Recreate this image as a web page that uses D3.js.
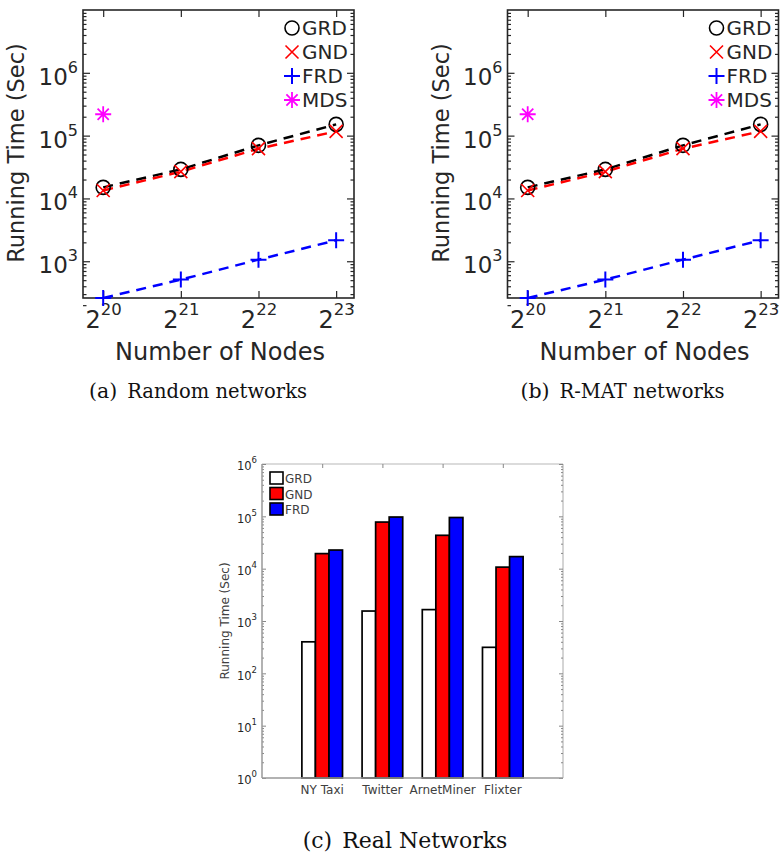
<!DOCTYPE html>
<html>
<head>
  <meta charset="utf-8">
  <title>Running time</title>
  <style>
    body { margin: 0; background: white; }
    svg  { display: block; }
    .ax text   { font-family: "DejaVu Sans", sans-serif; fill: #262626; }
    .cap       { font-family: "DejaVu Serif", serif; fill: #111; }
  </style>
</head>
<body>
<script src="https://d3js.org/d3.v7.min.js"></script>
<script>

// node counts, as powers of two
var nodeExp = [20, 21, 22, 23];

// (a) Random networks
var randGRD = [15000, 29000, 70000, 151000];
var randGND = [13400, 26700, 62000, 117000];
var randFRD = [260, 510, 1060, 2160];
var randMDS = [219000];          // only measured at 2^20

// (b) R-MAT networks
var rmatGRD = [15000, 29000, 70000, 151000];
var rmatGND = [13400, 26700, 62000, 117000];
var rmatFRD = [260, 510, 1060, 2160];
var rmatMDS = [219000];

// (c) Real networks
var realNets = ['NY Taxi', 'Twitter', 'ArnetMiner', 'Flixter'];
var realGRD  = [400, 1550, 1650, 314];
var realGND  = [19400, 77700, 43400, 10700];
var realFRD  = [22700, 97000, 95000, 17000];

var lineTicks = [1e3, 1e4, 1e5, 1e6];
var barTicks  = [1e0, 1e1, 1e2, 1e3, 1e4, 1e5, 1e6];

var svg = d3.select('body').append('svg')
  .attr('width', 780).attr('height', 858);

function minorTicks(lo, hi) {
  var out = [];
  for (var e = lo; e < hi; e++)
    for (var m = 2; m < 10; m++) out.push(m * Math.pow(10, e));
  return out;
}

// put "base^exp" into an axis label
function supLabel(sel, base, expFn, supSize, dy) {
  sel.each(function(d) {
    var t = d3.select(this).text('');
    t.append('tspan').text(base);
    t.append('tspan').attr('dy', dy).attr('font-size', supSize).text(expFn(d));
  });
}

function linePanel(ox, grd, gnd, frd, mds, caption) {
  var w = 271, h = 288, top = 10;
  var g = svg.append('g').attr('transform', 'translate(' + ox + ',' + top + ')');
  var x = d3.scaleLog().base(2).domain([Math.pow(2, 19.74), Math.pow(2, 23.23)]).range([0, w]);
  var y = d3.scaleLog().domain([260, 1e7]).range([h, 0]);
  var col = '#262626';

  // ticks, inward, on all four sides
  var yMajL = d3.axisLeft(y).tickValues(lineTicks).tickSize(-7).tickPadding(5).tickFormat(function(){return '';});
  var yMinL = d3.axisLeft(y).tickValues(minorTicks(2, 7)).tickSize(-3.5).tickFormat('');
  var yMajR = d3.axisRight(y).tickValues(lineTicks).tickSize(-7).tickFormat('');
  var yMinR = d3.axisRight(y).tickValues(minorTicks(2, 7)).tickSize(-3.5).tickFormat('');
  var xs = nodeExp.map(function(e){ return Math.pow(2, e); });
  var xB = d3.axisBottom(x).tickValues(xs).tickSize(-7).tickPadding(10).tickFormat(function(){return '';});
  var xT = d3.axisTop(x).tickValues(xs).tickSize(-7).tickFormat('');

  [[yMinL, 0, 0], [yMajL, 0, 0], [yMinR, w, 0], [yMajR, w, 0], [xB, 0, h], [xT, 0, 0]].forEach(function(a) {
    var ag = g.append('g').attr('class', 'ax')
      .attr('transform', 'translate(' + a[1] + ',' + a[2] + ')').call(a[0]);
    ag.select('.domain').remove();
    ag.selectAll('line').attr('stroke', col).attr('stroke-width', 1.2);
    if (a[0] === yMajL) {
      ag.selectAll('text').attr('font-size', 23).attr('dy', '0.5em')
        .call(supLabel, '10', function(d){ return Math.round(Math.log10(d)); }, 16, '-0.75em');
    }
    if (a[0] === xB) {
      ag.selectAll('text').attr('font-size', 24).attr('dy', '0.85em')
        .call(supLabel, '2', function(d){ return Math.round(Math.log2(d)); }, 16.5, '-0.8em');
    }
  });

  g.append('rect').attr('width', w).attr('height', h)
    .attr('fill', 'none').attr('stroke', col).attr('stroke-width', 1.6);

  var line = d3.line()
    .x(function(d, i){ return x(Math.pow(2, nodeExp[i])); })
    .y(function(d){ return y(d); });

  var series = [
    {v: grd, c: 'black',   m: 'o'},
    {v: gnd, c: '#ff0000', m: 'x'},
    {v: frd, c: '#0000ff', m: '+'}
  ];
  var plot = g.append('g');
  series.forEach(function(s) {
    plot.append('path').datum(s.v).attr('d', line)
      .attr('fill', 'none').attr('stroke', s.c).attr('stroke-width', 2.5)
      .attr('stroke-dasharray', '10,7');
  });
  series.forEach(function(s) {
    s.v.forEach(function(v, i) {
      marker(plot, s.m, s.c, x(Math.pow(2, nodeExp[i])), y(v));
    });
  });
  mds.forEach(function(v, i) {
    marker(plot, '*', '#ff00ff', x(Math.pow(2, nodeExp[i])), y(v));
  });

  // legend
  var leg = [['o', 'black', 'GRD'], ['x', '#ff0000', 'GND'], ['+', '#0000ff', 'FRD'], ['*', '#ff00ff', 'MDS']];
  leg.forEach(function(l, i) {
    var ly = 18 + i * 24;
    marker(g, l[0], l[1], 209, ly);
    g.append('text').attr('class', 'ax').attr('x', 219).attr('y', ly + 7)
      .attr('font-family', '"DejaVu Sans", sans-serif').attr('font-size', 20)
      .attr('fill', '#262626').text(l[2]);
  });

  // axis titles
  g.append('text').attr('transform', 'translate(' + (-59) + ',' + (h / 2 - 1) + ') rotate(-90)')
    .attr('text-anchor', 'middle').attr('font-family', '"DejaVu Sans", sans-serif')
    .attr('font-size', 22.5).attr('fill', '#262626').text('Running Time (Sec)');
  g.append('text').attr('x', 137).attr('y', 350)
    .attr('text-anchor', 'middle').attr('font-family', '"DejaVu Sans", sans-serif')
    .attr('font-size', 24).attr('fill', '#262626').text('Number of Nodes');

  var c = g.append('text').attr('class', 'cap').attr('x', 115).attr('y', 388)
    .attr('text-anchor', 'middle').attr('font-size', 20.5);
  c.append('tspan').text(caption[0]);
  c.append('tspan').attr('dx', 10).attr('font-size', 19.5).text(caption[1]);
}

function marker(p, m, c, cx, cy) {
  if (m === 'o') {
    p.append('circle').attr('cx', cx).attr('cy', cy).attr('r', 7)
      .attr('fill', 'none').attr('stroke', c).attr('stroke-width', 1.6);
  } else if (m === 'x') {
    var s = 6.5;
    p.append('path').attr('d', 'M' + (cx - s) + ',' + (cy - s) + 'L' + (cx + s) + ',' + (cy + s) +
      'M' + (cx - s) + ',' + (cy + s) + 'L' + (cx + s) + ',' + (cy - s))
      .attr('stroke', c).attr('stroke-width', 1.6);
  } else if (m === '+') {
    var r = 8;
    p.append('path').attr('d', 'M' + (cx - r) + ',' + cy + 'H' + (cx + r) + 'M' + cx + ',' + (cy - r) + 'V' + (cy + r))
      .attr('stroke', c).attr('stroke-width', 2);
  } else {
    var k = 8, q = k * 0.7;
    p.append('path').attr('d', 'M' + (cx - k) + ',' + cy + 'H' + (cx + k) + 'M' + cx + ',' + (cy - k) + 'V' + (cy + k) +
      'M' + (cx - q) + ',' + (cy - q) + 'L' + (cx + q) + ',' + (cy + q) +
      'M' + (cx - q) + ',' + (cy + q) + 'L' + (cx + q) + ',' + (cy - q))
      .attr('stroke', c).attr('stroke-width', 1.8);
  }
}

linePanel(83, randGRD, randGND, randFRD, randMDS, ['(a)', 'Random networks']);
linePanel(507.5, rmatGRD, rmatGND, rmatFRD, rmatMDS, ['(b)', 'R-MAT networks']);

// ---------- (c) bar chart ----------
(function() {
  var left = 262, right = 563, top = 464, bottom = 778;
  var w = right - left, h = bottom - top;
  var g = svg.append('g').attr('transform', 'translate(' + left + ',' + top + ')');
  var x = d3.scaleLinear().domain([0, 5]).range([0, w]);
  var y = d3.scaleLog().domain([1, 1e6]).range([h, 0]);
  var axCol = '#999', lab = '#404040';

  g.append('line').attr('x1', 0).attr('x2', w).attr('y1', 0).attr('y2', 0).attr('stroke', '#cfcfcf').attr('stroke-width', 1.5);
  g.append('line').attr('x1', w).attr('x2', w).attr('y1', 0).attr('y2', h).attr('stroke', '#aaa').attr('stroke-width', 1);

  var yMaj = d3.axisLeft(y).tickValues(barTicks).tickSize(-4).tickPadding(5).tickFormat(function(){return '';});
  var yMin = d3.axisLeft(y).tickValues(minorTicks(0, 6)).tickSize(-2).tickFormat('');
  var yMajR = d3.axisRight(y).tickValues(barTicks).tickSize(-4).tickFormat('');
  var yMinR = d3.axisRight(y).tickValues(minorTicks(0, 6)).tickSize(-2).tickFormat('');
  var xT = d3.axisTop(x).tickValues([1, 2, 3, 4]).tickSize(-4).tickFormat('');

  [[yMin, 0], [yMaj, 0], [yMinR, w], [yMajR, w], [xT, 0]].forEach(function(a) {
    var ag = g.append('g').attr('class', 'ax').attr('transform', 'translate(' + a[1] + ',0)').call(a[0]);
    ag.select('.domain').remove();
    ag.selectAll('line').attr('stroke', '#888').attr('stroke-width', 1);
    if (a[0] === yMaj) {
      ag.selectAll('text').attr('font-size', 11.5).attr('fill', lab).attr('dy', '0.5em')
        .call(supLabel, '10', function(d){ return Math.round(Math.log10(d)); }, 8.5, '-0.8em');
    }
  });
  g.append('line').attr('x1', 0).attr('x2', 0).attr('y1', 0).attr('y2', h).attr('stroke', axCol).attr('stroke-width', 1.5);

  var bw = 0.225;
  var groups = [
    {v: realGRD, c: 'white',   o: -1},
    {v: realGND, c: '#ff0000', o: 0},
    {v: realFRD, c: '#0000ff', o: 1}
  ];
  groups.forEach(function(s) {
    g.selectAll(null).data(s.v).enter().append('rect')
      .attr('x', function(d, i){ return x(i + 1 + s.o * bw - bw / 2); })
      .attr('width', x(bw) - x(0))
      .attr('y', function(d){ return y(d); })
      .attr('height', function(d){ return y(1) - y(d); })
      .attr('fill', s.c).attr('stroke', 'black').attr('stroke-width', 1.7);
  });

  g.append('line').attr('x1', 0).attr('x2', w).attr('y1', h).attr('y2', h).attr('stroke', axCol).attr('stroke-width', 1.5);

  g.selectAll(null).data(realNets).enter().append('text')
    .attr('x', function(d, i){ return x(i + 1); }).attr('y', h + 16)
    .attr('text-anchor', 'middle').attr('font-family', '"DejaVu Sans", sans-serif')
    .attr('font-size', 12).attr('fill', lab).text(function(d){ return d; });

  g.append('text').attr('transform', 'translate(-33,' + (h / 2) + ') rotate(-90)')
    .attr('text-anchor', 'middle').attr('font-family', '"DejaVu Sans", sans-serif')
    .attr('font-size', 12).attr('fill', lab).text('Running Time (Sec)');

  var leg = [['white', 'GRD'], ['#ff0000', 'GND'], ['#0000ff', 'FRD']];
  leg.forEach(function(l, i) {
    var ly = 8 + i * 15.5;
    g.append('rect').attr('x', 8).attr('y', ly).attr('width', 13).attr('height', 12)
      .attr('fill', l[0]).attr('stroke', 'black').attr('stroke-width', 1.6);
    g.append('text').attr('x', 23).attr('y', ly + 11)
      .attr('font-family', '"DejaVu Sans", sans-serif').attr('font-size', 12)
      .attr('fill', lab).text(l[1]);
  });

  var c = svg.append('text').attr('class', 'cap').attr('x', 405).attr('y', 848)
    .attr('text-anchor', 'middle').attr('font-size', 22);
  c.append('tspan').text('(c)');
  c.append('tspan').attr('dx', 10).text('Real Networks');
})();

</script>
</body>
</html>
